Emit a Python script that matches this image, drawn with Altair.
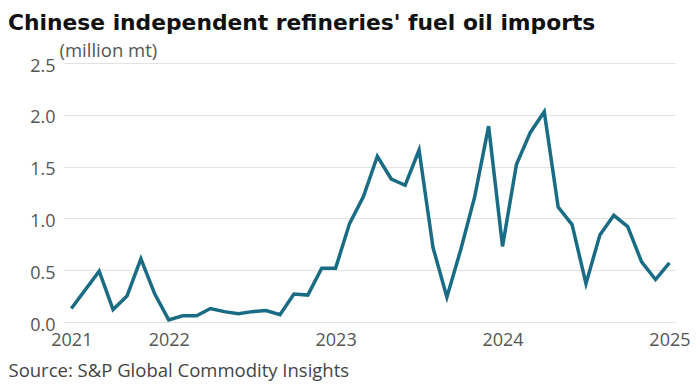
import altair as alt
import pandas as pd

# month index (0 = first month shown) and imports (million mt)
months = [0, 2, 3, 4, 5, 6, 7, 8, 9, 10, 11, 12, 13, 14, 15, 16, 17, 18, 19, 20,
          21, 22, 23, 24, 25, 26, 27, 28, 29, 30, 31, 32, 33, 34, 35, 36, 37, 38,
          39, 40, 41, 42, 43]
imports = [0.13, 0.49, 0.12, 0.25, 0.61, 0.27, 0.02, 0.06, 0.06, 0.13, 0.10, 0.08,
           0.10, 0.11, 0.07, 0.27, 0.26, 0.52, 0.52, 0.95, 1.21, 1.60, 1.38, 1.32,
           1.66, 0.72, 0.24, 0.70, 1.21, 1.89, 0.73, 1.52, 1.83, 2.03, 1.11, 0.94,
           0.37, 0.84, 1.03, 0.92, 0.58, 0.41, 0.57]

tick_positions = [0, 7, 19, 31, 43]
tick_labels = ["2021", "2022", "2023", "2024", "2025"]
y_ticks = [0.0, 0.5, 1.0, 1.5, 2.0, 2.5]

df = pd.DataFrame({"month": months, "imports": imports})

label_expr = " : ".join(
    f"datum.value == {p} ? '{l}'" for p, l in zip(tick_positions, tick_labels)
) + " : ''"

FONT = "Open Sans"

chart = alt.Chart(df).mark_line(
    color="#1a6c85", strokeWidth=3.5, strokeJoin="miter"
).encode(
    x=alt.X(
        "month:Q",
        scale=alt.Scale(domain=[-0.6, 43.4], nice=False, zero=False),
        axis=alt.Axis(
            values=tick_positions,
            labelExpr=label_expr,
            grid=False,
            domain=False,
            ticks=False,
            labelFont=FONT,
            labelFontSize=18,
            labelColor="#555555",
            labelPadding=9,
            title="Source: S&P Global Commodity Insights",
            titleFont=FONT,
            titleFontSize=18.5,
            titleFontWeight="normal",
            titleColor="#444444",
            titleX=-55,
            titleY=54,
            titleAlign="left",
            titleBaseline="alphabetic",
        ),
    ),
    y=alt.Y(
        "imports:Q",
        scale=alt.Scale(domain=[0, 2.5], nice=False),
        axis=alt.Axis(
            values=y_ticks,
            format=".1f",
            grid=True,
            gridColor="#e3e3e3",
            gridWidth=1,
            domain=False,
            ticks=False,
            labelFont=FONT,
            labelFontSize=18,
            labelColor="#555555",
            labelPadding=8,
            labelBaseline="middle",
            labelOffset=3,
            title="(million mt)",
            titleFont=FONT,
            titleFontSize=18.5,
            titleFontWeight="normal",
            titleColor="#555555",
            titleAngle=0,
            titleX=-4,
            titleY=-13,
            titleAlign="left",
            titleBaseline="middle",
        ),
    ),
).properties(
    width=612,
    height=259,
    title=alt.TitleParams(
        "Chinese independent refineries' fuel oil imports",
        font="DejaVu Sans",
        fontSize=21.8,
        fontWeight="bold",
        color="#111111",
        anchor="start",
        frame="group",
        dx=-55,
        dy=-3,
        offset=3,
    ),
    autosize=alt.AutoSizeParams(type="none"),
    padding={"left": 55, "top": 55, "right": 15, "bottom": 62},
).configure_view(stroke=None)

chart.save("out.html", embed_options={"renderer": "svg", "actions": False})
